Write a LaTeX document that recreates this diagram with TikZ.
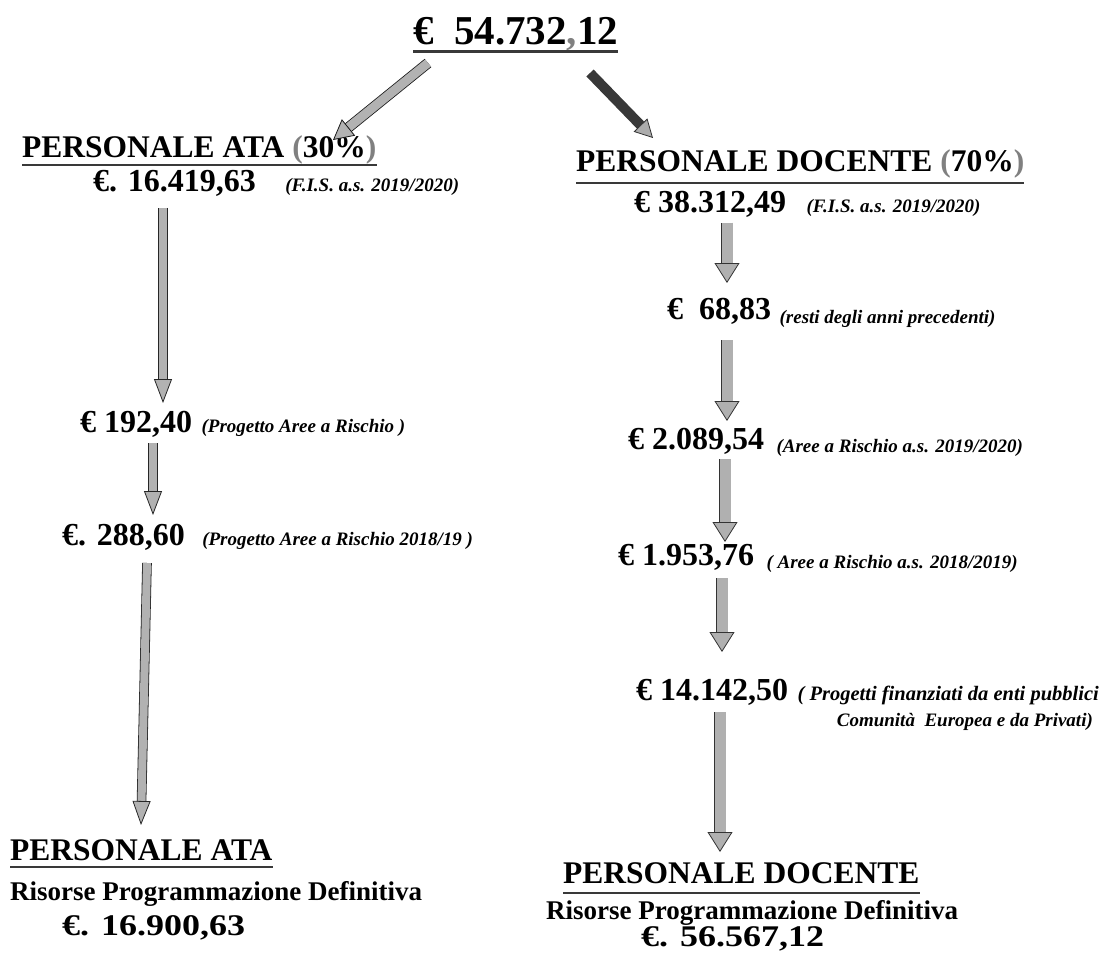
\documentclass[tikz,border=0pt]{standalone}
\usepackage{fontspec}
\setmainfont{Liberation Serif}
\newfontfamily\totfont{Liberation Serif}[FakeStretch=1.2]
\usetikzlibrary{arrows.meta,positioning}

\begin{document}
\begin{tikzpicture}[x=1pt, y=-1pt,
  every node/.style={inner sep=0pt, anchor=base west},
  head/.style={font=\bfseries\fontsize{31.5}{36}\selectfont},
  val/.style={font=\bfseries\fontsize{32}{36}\selectfont},
  note/.style={font=\bfseries\itshape\fontsize{19}{22}\selectfont},
  res/.style={font=\bfseries\fontsize{27}{30}\selectfont},
  tot/.style={font=\totfont\bfseries\fontsize{30}{34}\selectfont},
  uline/.style={draw=gray!45!black, line width=2.2pt},
  flowa/.style={draw=gray!60, line width=8pt,
    -{Triangle[width=18pt,length=24pt,line width=0.8pt,color=gray!30!black,fill=gray!60]},
    preaction={-, draw=gray!30!black, line width=9.6pt, shorten >=20pt}},
  flowd/.style={draw=gray!62, line width=11pt,
    -{Triangle[width=25pt,length=20pt,line width=0.8pt,color=gray!40!black,fill=gray!62]},
    preaction={-, draw=gray!40!black, line width=12.6pt, shorten >=16pt}},
  flowl/.style={draw=gray!60, line width=9pt,
    -{Triangle[width=21pt,length=20pt,line width=0.8pt,color=gray!20!black,fill=gray!60]},
    preaction={-, draw=gray!20!black, line width=10.6pt, shorten >=16pt}},
  flowr/.style={draw=black!78, line width=10pt,
    -{Triangle[width=19pt,length=18pt,line width=0.8pt,color=gray!40!black,fill=gray!65]}}]
\useasboundingbox (0,0) rectangle (1112,955);

\node[font=\bfseries\fontsize{41}{46}\selectfont] (n0) at (413,45) {€~~54.732{\color{gray},}12};
\draw[uline, line width=3pt] ([yshift=-7pt]n0.base west) -- ([yshift=-7pt]n0.base east);

% ATA
\node[head] (na) at (22,158) {PERSONALE ATA {\color{gray}(}30\%{\color{gray})}};
\draw[uline] ([yshift=-7pt]na.base west) -- ([yshift=-7pt]na.base east);
\node[val] (na0) at (93,192) {€. 16.419,63};
\node[note] (na0n) at ([xshift=29pt]na0.base east) {(F.I.S. a.s. 2019/2020)};
\node[val] (na1) at (80,432) {€ 192,40};
\node[note] (na1n) at ([xshift=9pt]na1.base east) {(Progetto Aree a Rischio )};
\node[val] (na2) at (62,545) {€. 288,60};
\node[note] (na2n) at ([xshift=17pt]na2.base east) {(Progetto Aree a Rischio 2018/19 )};
\node[head] (nab) at (10,860) {PERSONALE ATA};
\draw[uline] ([yshift=-7pt]nab.base west) -- ([yshift=-7pt]nab.base east);
\node[res] (nab1) at (10,900) {Risorse Programmazione Definitiva};
\node[tot] (nab2) at (62,935) {€. 16.900,63};

% DOCENTE
\node[head] (nd) at (576,172) {PERSONALE DOCENTE {\color{gray}(}70\%{\color{gray})}};
\draw[uline] ([yshift=-11pt]nd.base west) -- ([yshift=-11pt]nd.base east);
\node[val] (nd0) at (634,213) {€ 38.312,49};
\node[note] (nd0n) at ([xshift=20pt]nd0.base east) {(F.I.S. a.s. 2019/2020)};
\node[val] (nd1) at (667,319) {€~~68,83};
\node[note] (nd1n) at ([shift={(8pt,-4pt)}]nd1.base east) {(resti degli anni precedenti)};
\node[val] (nd2) at (628,449) {€ 2.089,54};
\node[note] (nd2n) at ([shift={(12pt,-3pt)}]nd2.base east) {(Aree a Rischio a.s. 2019/2020)};
\node[val] (nd3) at (618,565) {€ 1.953,76};
\node[note] (nd3n) at ([shift={(12pt,-3pt)}]nd3.base east) {( Aree a Rischio a.s. 2018/2019)};
\node[val] (nd4) at (636,700) {€ 14.142,50};
\node[note, font=\bfseries\itshape\fontsize{20.5}{24}\selectfont] (nd4n) at ([xshift=9pt]nd4.base east) {( Progetti finanziati da enti pubblici};
\node[note, anchor=base east] (nd4m) at ([shift={(-6pt,-26pt)}]nd4n.base east) {Comunità~~Europea e da Privati)};
\node[head] (ndb) at (563,883) {PERSONALE DOCENTE};
\draw[uline] ([yshift=-10pt]ndb.base west) -- ([yshift=-10pt]ndb.base east);
\node[res] (ndb1) at (546,919) {Risorse Programmazione Definitiva};
\node[tot] (ndb2) at (641,946) {€. 56.567,12};

% arrows
\draw[flowl] ([shift={(15pt,-18pt)}]n0.base west) -- ([shift={(311pt,18pt)}]na.base west);
\draw[flowr] ([shift={(177pt,-28pt)}]n0.base west) -- ([shift={(77pt,34pt)}]nd.base west);

\draw[flowa] ([shift={(70pt,-16pt)}]na0.base west) -- ([shift={(83pt,29pt)}]na1.base west);
\draw[flowa] ([shift={(73pt,-11pt)}]na1.base west) -- ([shift={(91pt,30pt)}]na2.base west);
\draw[flowa] ([shift={(85pt,-18pt)}]na2.base west) -- ([shift={(131pt,35pt)}]nab.base west);

\draw[flowd] ([shift={(93pt,-10pt)}]nd0.base west) -- ([shift={(60pt,36pt)}]nd1.base west);
\draw[flowd] ([shift={(60pt,-21pt)}]nd1.base west) -- ([shift={(99pt,28pt)}]nd2.base west);
\draw[flowd] ([shift={(97pt,-10pt)}]nd2.base west) -- ([shift={(107pt,23pt)}]nd3.base west);
\draw[flowd] ([shift={(104pt,-13pt)}]nd3.base west) -- ([shift={(86pt,48pt)}]nd4.base west);
\draw[flowd] ([shift={(84pt,-12pt)}]nd4.base west) -- ([shift={(157pt,31pt)}]ndb.base west);
\end{tikzpicture}
\end{document}
